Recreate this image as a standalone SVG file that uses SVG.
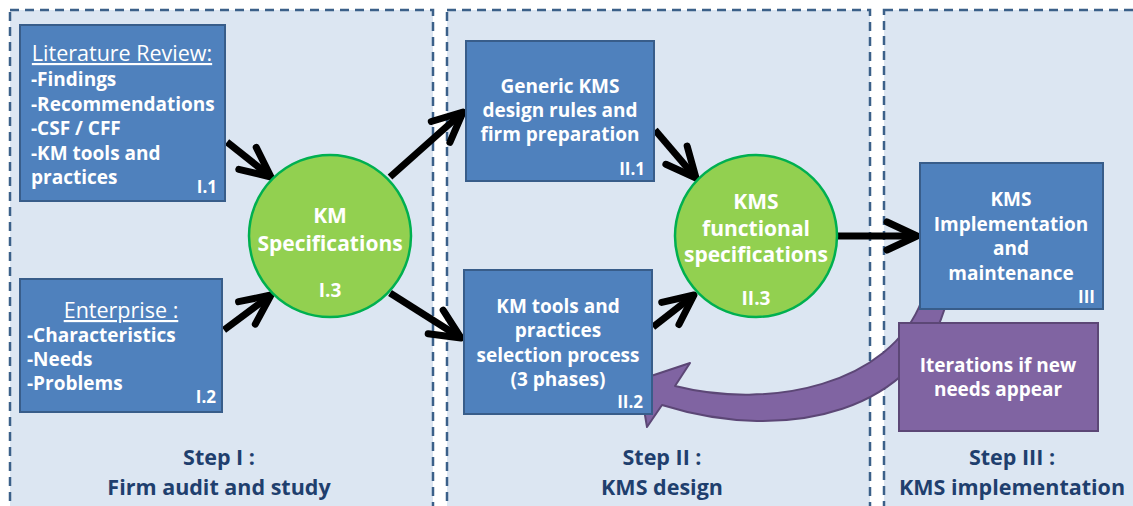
<svg xmlns="http://www.w3.org/2000/svg" width="1133" height="506" viewBox="0 0 1133 506">
<defs>
<style>
.panel{fill:#dce6f2;stroke:#3b6089;stroke-width:2.5;stroke-dasharray:9 6}
.box{fill:#4f81bd;stroke:#385d8a;stroke-width:2}
.circ{fill:#92d050;stroke:#00b050;stroke-width:2.5}
.pbox{fill:#8064a2;stroke:#5c4776;stroke-width:2}
.conn{fill:none;stroke:#000;stroke-width:7;marker-end:url(#ah)}
text{font-family:"Open Sans","Liberation Sans",sans-serif;fill:#fff;font-weight:bold}
.t{font-size:19px}
.h{font-size:21.5px;font-weight:normal;text-decoration:underline}
.c{text-anchor:middle}
.n{font-size:17px;text-anchor:end}
.big{font-size:21px;text-anchor:middle}
.step{font-size:21.5px;fill:#1f3f6e;text-anchor:middle}
</style>
<marker id="ah" markerUnits="userSpaceOnUse" viewBox="-40 -22 50 44" refX="0" refY="0" markerWidth="50" markerHeight="44" orient="auto">
<path d="M-30,-14 L0,0 L-30,14" fill="none" stroke="#000" stroke-width="7" stroke-linecap="round" stroke-linejoin="round"/>
</marker>
</defs>
<rect width="1133" height="506" fill="#fff"/>
<g id="panels">
<rect class="panel" x="10" y="10" width="423" height="520"/>
<rect class="panel" x="447" y="10" width="423" height="520"/>
<rect class="panel" x="884" y="10" width="270" height="520"/>
</g>
<g id="connectors">
<path class="conn" d="M227,142 L271,177"/>
<path class="conn" d="M224,330 L271,295"/>
<path class="conn" d="M390,177 L463,112"/>
<path class="conn" d="M390,293 L461,338"/>
<path class="conn" d="M655,130 L696,178"/>
<path class="conn" d="M653,327 L694,295"/>
<path class="conn" d="M838,236 L917,236"/>
<path id="iterarrow" d="M922,300 C890,385 770,410 675,386 L690,363 L639,380 L647,427 L662,405 C790,445 920,410 947,300 Z" fill="#8064a2" stroke="#5c4776" stroke-width="2" stroke-linejoin="round"/>
</g>
<g id="n-I1">
<rect class="box" x="20" y="25" width="205" height="176"/>
<text class="h c" x="122" y="61">Literature Review:</text>
<text class="t" x="31" y="86">-Findings</text>
<text class="t" x="31" y="111">-Recommendations</text>
<text class="t" x="31" y="135">-CSF / CFF</text>
<text class="t" x="31" y="160">-KM tools and</text>
<text class="t" x="31" y="184">practices</text>
<text class="n" x="217" y="193">I.1</text>
</g>
<g id="n-I2">
<rect class="box" x="20" y="279" width="202" height="133"/>
<text class="h c" x="121" y="318">Enterprise :</text>
<text class="t" x="27" y="342">-Characteristics</text>
<text class="t" x="27" y="366">-Needs</text>
<text class="t" x="27" y="390">-Problems</text>
<text class="n" x="216" y="403">I.2</text>
</g>
<g id="n-I3">
<circle class="circ" cx="330" cy="236" r="81"/>
<text class="big" x="330" y="223">KM</text>
<text class="big" x="330" y="251">Specifications</text>
<text class="t c" x="330" y="297">I.3</text>
</g>
<g id="n-II1">
<rect class="box" x="466" y="41" width="188" height="140"/>
<text class="t c" x="560" y="93">Generic KMS</text>
<text class="t c" x="560" y="117">design rules and</text>
<text class="t c" x="560" y="141">firm preparation</text>
<text class="n" x="645" y="175">II.1</text>
</g>
<g id="n-II2">
<rect class="box" x="464" y="270" width="188" height="144"/>
<text class="t c" x="558" y="313">KM tools and</text>
<text class="t c" x="558" y="337">practices</text>
<text class="t c" x="558" y="362">selection process</text>
<text class="t c" x="558" y="386">(3 phases)</text>
<text class="n" x="643" y="408">II.2</text>
</g>
<g id="n-II3">
<circle class="circ" cx="756" cy="236" r="81"/>
<text class="big" x="756" y="209">KMS</text>
<text class="big" x="756" y="236">functional</text>
<text class="big" x="756" y="262">specifications</text>
<text class="t c" x="756" y="305">II.3</text>
</g>
<g id="n-III">
<rect class="box" x="920" y="163" width="183" height="146"/>
<text class="t c" x="1011" y="206">KMS</text>
<text class="t c" x="1011" y="230.5">Implementation</text>
<text class="t c" x="1011" y="255">and</text>
<text class="t c" x="1011" y="279.5">maintenance</text>
<text class="n" x="1095" y="303">III</text>
</g>
<g id="n-iter">
<rect class="pbox" x="899" y="323" width="199" height="108"/>
<text class="t c" x="998" y="372">Iterations if new</text>
<text class="t c" x="998" y="396">needs appear</text>
</g>
<g id="steps">
<text class="step" x="219" y="465">Step I :</text>
<text class="step" x="219" y="495">Firm audit and study</text>
<text class="step" x="662" y="465">Step II :</text>
<text class="step" x="662" y="495">KMS design</text>
<text class="step" x="1012" y="465">Step III :</text>
<text class="step" x="1012" y="495">KMS implementation</text>
</g>
</svg>
